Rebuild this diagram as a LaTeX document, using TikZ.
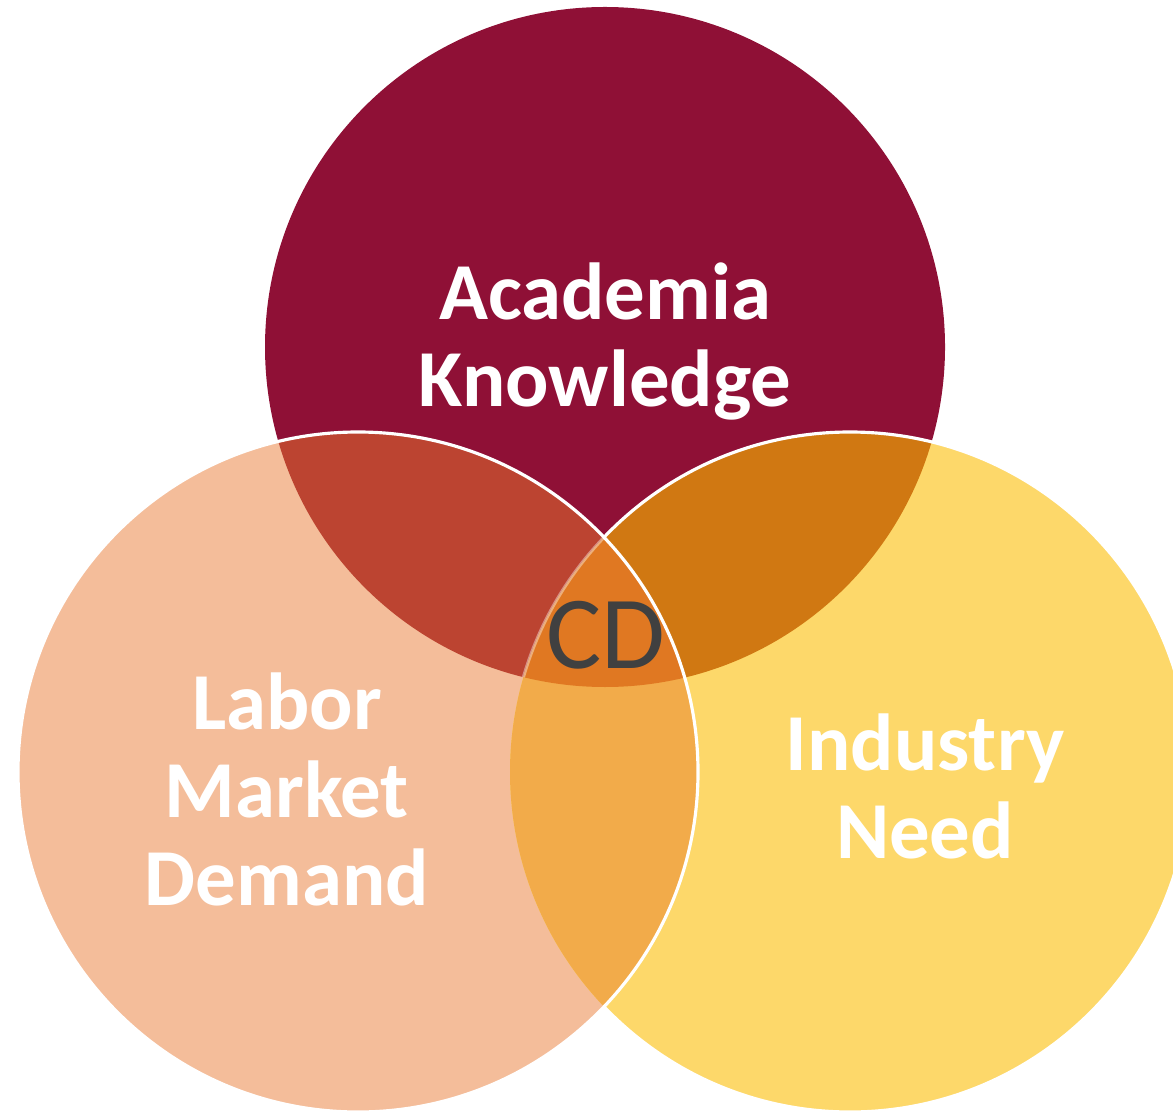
\documentclass[tikz,border=0pt]{standalone}
\usepackage{fontspec}
\setmainfont{Carlito}

\definecolor{academia}{HTML}{8F1036}
\definecolor{labor}{HTML}{F4BD9A}
\definecolor{industry}{HTML}{FDD86A}
\definecolor{acadlabor}{HTML}{BC4431}
\definecolor{acadindustry}{HTML}{D07812}
\definecolor{laborindustry}{HTML}{F2AB4A}
\definecolor{allthree}{HTML}{E07822}
\definecolor{cdtext}{HTML}{404040}

\begin{document}
\begin{tikzpicture}[
    circle label/.style={text=white, align=center, anchor=base,
        font=\bfseries\fontsize{23}{25}\selectfont}]
    \useasboundingbox (0,0) rectangle (11.73,11.14);
    \clip (0,0) rectangle (11.73,11.14);

    \def\topcirc{(6.05,7.67) circle (3.4cm)}
    \def\leftcirc{(3.58,3.42) circle (3.4cm)}
    \def\rightcirc{(8.50,3.42) circle (3.4cm)}

    % The three circles
    \fill[academia] \topcirc;
    \fill[labor] \leftcirc;
    \fill[industry] \rightcirc;

    % Pairwise overlaps
    \begin{scope}
        \clip \topcirc;
        \fill[acadlabor] \leftcirc;
        \fill[acadindustry] \rightcirc;
    \end{scope}
    \begin{scope}
        \clip \leftcirc;
        \fill[laborindustry] \rightcirc;
    \end{scope}

    % Centre, where all three meet
    \begin{scope}
        \clip \topcirc;
        \clip \leftcirc;
        \fill[allthree] \rightcirc;
        \draw[white, opacity=0.4, line width=0.9pt] \rightcirc; % faint edge
    \end{scope}

    % White edges
    \begin{scope}[even odd rule]
        \clip (-1,-1) rectangle (13,13) \leftcirc;
        \draw[white, line width=0.9pt] \rightcirc;
    \end{scope}
    \draw[white, line width=0.9pt] \leftcirc;

    % Labels (base = last line)
    \node[circle label] (academia) at (6.05,7.07) {Academia\\Knowledge};
    \node[circle label] (labor) at (2.87,2.09) {Labor\\Market\\Demand};
    \node[circle label] (industry) at (9.25,2.56) {Industry\\Need};
    \node[text=cdtext, anchor=base, font=\fontsize{29.5}{32}\selectfont] (cd) at (6.06,4.46) {CD};
\end{tikzpicture}
\end{document}
